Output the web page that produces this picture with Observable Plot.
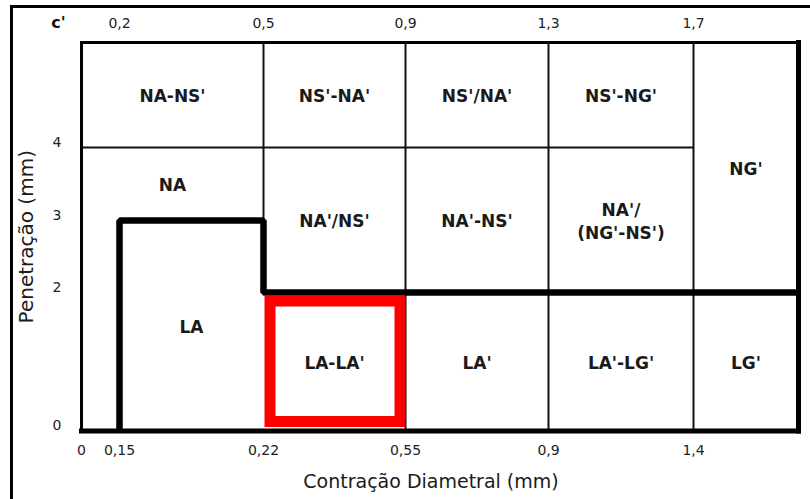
<!DOCTYPE html>
<html><head><meta charset="utf-8">
<script src="https://cdn.jsdelivr.net/npm/d3@7"></script>
<script src="https://cdn.jsdelivr.net/npm/@observablehq/plot@0.6"></script>
<style>
html,body{margin:0;padding:0;background:#fff;}
#wrap{position:relative;width:810px;height:499px;overflow:hidden;background:#fff;}
#border{position:absolute;left:10px;top:5px;width:1000px;height:1000px;border:3px solid #000;pointer-events:none;}
</style></head><body>
<div id="wrap"></div>
<script>
// Contração diametral (mm): column edges on the bottom axis
const contracao = [0, 0.15, 0.22, 0.55, 0.9, 1.4];
const contracaoFim = 1.9; // unlabelled right edge of the chart
// c' values printed on the top axis, and the contraction edge each one sits on
const cLinha = [0.2, 0.5, 0.9, 1.3, 1.7];
const cLinhaEm = [0.15, 0.22, 0.55, 0.9, 1.4];
// Penetração (mm)
const penetracao = [0, 2, 3, 4];
const penetracaoFim = 5; // unlabelled top edge of the chart

// Classification cells
const classes = ["NA-NS'", "NS'-NA'", "NS'/NA'", "NS'-NG'", "NG'",
                 "NA", "NA'/NS'", "NA'-NS'", "NA'/\n(NG'-NS')",
                 "LA", "LA-LA'", "LA'", "LA'-LG'", "LG'"];
const classeX1 = [0, 0.22, 0.55, 0.9, 1.4,   0, 0.22, 0.55, 0.9,   0.15, 0.22, 0.55, 0.9, 1.4];
const classeX2 = [0.22, 0.55, 0.9, 1.4, contracaoFim,   0.22, 0.55, 0.9, 1.4,   0.22, 0.55, 0.9, 1.4, contracaoFim];
const classeY1 = [4, 4, 4, 4, 2,   3, 2, 2, 2,   0, 0, 0, 0, 0];
const classeY2 = [5, 5, 5, 5, 5,   4, 4, 4, 4,   3, 2, 2, 2, 2];
const destaque = "LA-LA'";

// Thin cell borders (segments)
const finoX1 = [0.22, 0.55, 0.9, 1.4, 0];
const finoX2 = [0.22, 0.55, 0.9, 1.4, 1.4];
const finoY1 = [3, 0, 0, 0, 4];
const finoY2 = [5, 5, 5, 5, 4];

// Thick boundary of the lateritic (L) region
const limiteX = [0.15, 0.15, 0.22, 0.22, contracaoFim];
const limiteY = [0, 3, 3, 2, 2];

const virgula = d => String(d).replace(".", ",");

const xOpts = {type: "linear", domain: [...contracao, contracaoFim], range: [81, 119, 263, 405, 548, 693, 798]};
const yOpts = {type: "linear", domain: [...penetracao, penetracaoFim], range: [430.5, 292, 220, 147, 42]};
const sx = Plot.scale({x: xOpts});
const sy = Plot.scale({y: yOpts});

const celulas = classes.map((label, i) => ({
  label,
  x1: classeX1[i], x2: classeX2[i], y1: classeY1[i], y2: classeY2[i],
  cx: sx.invert((sx.apply(classeX1[i]) + sx.apply(classeX2[i])) / 2),
  cy: sy.invert((sy.apply(classeY1[i]) + sy.apply(classeY2[i])) / 2)
}));
const finos = finoX1.map((d, i) => ({x1: d, x2: finoX2[i], y1: finoY1[i], y2: finoY2[i]}));
const limite = limiteX.map((d, i) => ({x: d, y: limiteY[i]}));
const quadro = [
  {x1: 0, x2: 0, y1: 0, y2: penetracaoFim, w: 3},
  {x1: 0, x2: contracaoFim, y1: penetracaoFim, y2: penetracaoFim, w: 3},
  {x1: contracaoFim, x2: contracaoFim, y1: 0, y2: penetracaoFim, w: 5},
  {x1: 0, x2: contracaoFim, y1: 0, y2: 0, w: 5}
];
const cMap = new Map(cLinhaEm.map((d, i) => [d, cLinha[i]]));

const chart = Plot.plot({
  width: 810, height: 499,
  marginLeft: 81, marginRight: 12, marginTop: 42, marginBottom: 68.5,
  x: xOpts, y: yOpts,
  style: {fontFamily: "DejaVu Sans", fontSize: "14px", background: "transparent", overflow: "visible"},
  marks: [
    Plot.link(finos, {x1: "x1", x2: "x2", y1: "y1", y2: "y2", stroke: "#111", strokeWidth: 2}),
    Plot.line(limite, {x: "x", y: "y", stroke: "#000", strokeWidth: 6.5, strokeLinejoin: "miter", strokeLinecap: "butt"}),
    Plot.link(quadro, {x1: "x1", x2: "x2", y1: "y1", y2: "y2", stroke: "#000", strokeWidth: "w", strokeLinecap: "square"}),
    Plot.rect(celulas.filter(d => d.label === destaque), {
      x1: "x1", x2: "x2", y1: "y1", y2: "y2", fill: "none", stroke: "#ff0000", strokeWidth: 11,
      insetLeft: 7, insetRight: 5, insetTop: 9, insetBottom: 9
    }),
    Plot.text(celulas, {x: "cx", y: "cy", text: "label", fontFamily: "DejaVu Sans", fontWeight: "bold", fontSize: 17, fill: "#1a1a1a", lineHeight: 1.35}),
    Plot.axisX(contracao, {anchor: "bottom", tickSize: 0, tickPadding: 14, tickFormat: virgula, fontSize: 14, fill: "#222", label: null}),
    Plot.axisX(cLinhaEm, {anchor: "top", tickSize: 0, tickPadding: 15, tickFormat: d => virgula(cMap.get(d)), fontSize: 14, fill: "#222", label: null}),
    Plot.axisY(penetracao, {anchor: "left", tickSize: 0, tickPadding: 20, dy: -5, tickFormat: virgula, fontSize: 14, fill: "#222", label: null}),
    Plot.text(["c'"], {frameAnchor: "top-left", dx: -23, dy: -20, textAnchor: "middle", lineAnchor: "middle", fontWeight: "bold", fontSize: 16, fill: "#111"}),
    Plot.text(["Contração Diametral (mm)"], {frameAnchor: "bottom", dx: -9, dy: 51, textAnchor: "middle", lineAnchor: "middle", fontSize: 19, fill: "#1a1a1a"}),
    Plot.text(["Penetração (mm)"], {frameAnchor: "left", dx: -55, rotate: -90, textAnchor: "middle", lineAnchor: "middle", fontSize: 20, fill: "#1a1a1a"})
  ]
});
const wrap = document.getElementById("wrap");
wrap.appendChild(chart);
const b = document.createElement("div");
b.id = "border";
wrap.appendChild(b);
</script></body></html>
